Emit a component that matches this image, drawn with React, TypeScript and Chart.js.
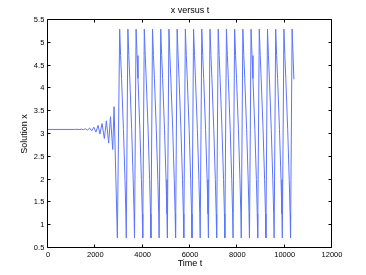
import React, { useEffect, useRef } from "react";
import { Chart, registerables } from "chart.js";

Chart.register(...registerables);

const chartTitle = "x versus t";
const xAxisLabel = "Time t";
const yAxisLabel = "Solution x";

const xTickValues = [0, 2000, 4000, 6000, 8000, 10000, 12000];
const yTickValues = [0.5, 1, 1.5, 2, 2.5, 3, 3.5, 4, 4.5, 5, 5.5];

// steady state and growing small oscillation
const onsetT = [0, 1130, 1225, 1314, 1403, 1492, 1581, 1670, 1759, 1848, 1937, 2026, 2115, 2195, 2284, 2381, 2466, 2563, 2640, 2735, 2792];
const onsetX = [3.1, 3.1, 3.104, 3.096, 3.108, 3.092, 3.115, 3.085, 3.13, 3.07, 3.15, 3.04, 3.19, 3.0, 3.23, 2.9, 3.29, 2.8, 3.38, 2.66, 3.6];

// first drop into the relaxation oscillation
const dropT = [2931];
const dropX = [0.72];

// times of the big peaks
const peakT = [3028, 3375, 3722, 4069, 4416, 4763, 5110, 5457, 5804, 6151, 6498, 6845, 7192, 7539, 7886, 8233, 8580, 8927, 9274, 9621, 9968, 10315];

// shape of one big cycle after its peak (offset in t, value of x)
const cycleOffsetT = [0, 40, 80, 160, 225, 262, 280];
const cycleX = [5.3, 4.72, 4.22, 3.1, 2.0, 1.25, 0.72];

// where the run ends
const tailT = [10390];
const tailX = [4.2];

function buildPoints() {
  const pts: { x: number; y: number }[] = [];
  onsetT.forEach((t, i) => pts.push({ x: t, y: onsetX[i] }));
  dropT.forEach((t, i) => pts.push({ x: t, y: dropX[i] }));
  peakT.forEach((p, i) => {
    if (i < peakT.length - 1) {
      cycleOffsetT.forEach((o, j) => pts.push({ x: p + o, y: cycleX[j] }));
    } else {
      pts.push({ x: p, y: cycleX[0] });
    }
  });
  tailT.forEach((t, i) => pts.push({ x: t, y: tailX[i] }));
  return pts;
}

const FONT = "'Liberation Sans', Arial, Helvetica, sans-serif";

const framePlugin = {
  id: "matlabFrame",
  afterDraw(chart: any) {
    const { ctx, chartArea, scales } = chart;
    const l = Math.floor(chartArea.left) - 0.5;
    const r = Math.round(chartArea.right) - 0.5;
    const t = Math.floor(chartArea.top) - 0.5;
    const b = Math.round(chartArea.bottom) - 0.5;
    ctx.save();
    ctx.strokeStyle = "#000";
    ctx.lineWidth = 1;
    ctx.beginPath();
    ctx.rect(l, t, r - l, b - t);
    const tl = 3;
    scales.x.ticks.forEach((tk: any) => {
      const px = Math.round(scales.x.getPixelForValue(tk.value)) - 0.5;
      ctx.moveTo(px, b);
      ctx.lineTo(px, b - tl);
      ctx.moveTo(px, t);
      ctx.lineTo(px, t + tl);
    });
    scales.y.ticks.forEach((tk: any) => {
      const py = Math.round(scales.y.getPixelForValue(tk.value)) - 0.5;
      ctx.moveTo(l, py);
      ctx.lineTo(l + tl, py);
      ctx.moveTo(r, py);
      ctx.lineTo(r - tl, py);
    });
    ctx.stroke();
    ctx.fillStyle = "#000";
    ctx.font = `9px ${FONT}`;
    ctx.textAlign = "center";
    ctx.textBaseline = "middle";
    ctx.fillText(chartTitle, (chartArea.left + chartArea.right) / 2, 11);
    ctx.restore();
  },
};

export default function App() {
  const ref = useRef<HTMLCanvasElement | null>(null);
  useEffect(() => {
    document.body.style.margin = "0";
    const canvas = ref.current;
    if (!canvas) return;
    const chart = new Chart(canvas, {
      type: "line",
      data: {
        datasets: [
          {
            data: buildPoints(),
            borderColor: "rgb(90,118,255)",
            borderWidth: 1,
            pointRadius: 0,
            tension: 0,
            fill: false,
          },
        ],
      },
      options: {
        animation: false,
        responsive: false,
        devicePixelRatio: 1,
        layout: { padding: { top: 20, right: 34, left: 0, bottom: 0 } },
        plugins: {
          legend: { display: false },
          title: { display: false },
          tooltip: { enabled: false },
        },
        scales: {
          x: {
            type: "linear",
            min: 0,
            max: 12000,
            afterFit: (s: any) => {
              s.height = 27;
            },
            afterBuildTicks: (s: any) => {
              s.ticks = xTickValues.map((v) => ({ value: v }));
            },
            grid: { display: false, drawTicks: false },
            border: { display: false },
            ticks: {
              color: "#000",
              padding: 2.3,
              maxRotation: 0,
              autoSkip: false,
              font: { family: FONT, size: 7.5 },
              callback: (v: any) => String(v),
            },
            title: {
              display: true,
              text: xAxisLabel,
              color: "#000",
              font: { family: FONT, size: 9 },
              padding: { top: 0, bottom: 6.3 },
            },
          },
          y: {
            type: "linear",
            min: 0.5,
            max: 5.5,
            afterFit: (s: any) => {
              s.width = 48;
            },
            afterBuildTicks: (s: any) => {
              s.ticks = yTickValues.map((v) => ({ value: v }));
            },
            grid: { display: false, drawTicks: false },
            border: { display: false },
            ticks: {
              color: "#000",
              padding: 3.7,
              autoSkip: false,
              font: { family: FONT, size: 7.5 },
              callback: (v: any) => String(v),
            },
            title: {
              display: true,
              text: yAxisLabel,
              color: "#000",
              font: { family: FONT, size: 9 },
              padding: { top: 19.6, bottom: 0 },
            },
          },
        },
      },
      plugins: [framePlugin],
    });
    return () => chart.destroy();
  }, []);
  return (
    <div style={{ width: 366, height: 275, background: "#fff" }}>
      <canvas ref={ref} width={366} height={275} style={{ width: 366, height: 275, display: "block" }} />
    </div>
  );
}
